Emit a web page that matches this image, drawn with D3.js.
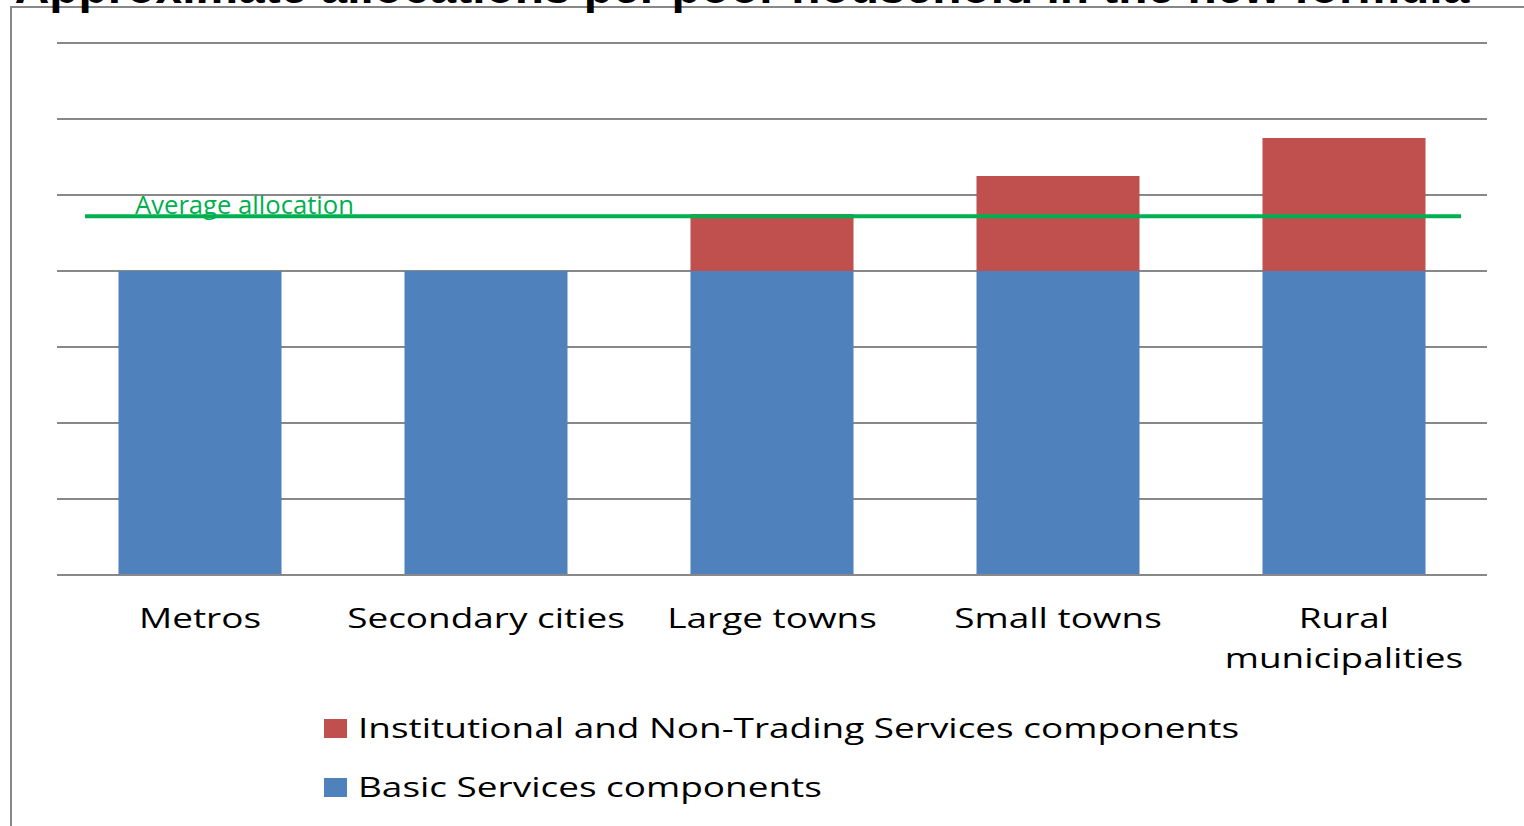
<!DOCTYPE html>
<html>
<head>
<meta charset="utf-8">
<script src="https://cdn.jsdelivr.net/npm/d3@7"></script>
<style>
  body { margin: 0; background: #fff; }
  svg { display: block; }
</style>
</head>
<body>
<svg id="chart" width="1524" height="826"></svg>
<script>
// Data
var categories = ["Metros", "Secondary cities", "Large towns", "Small towns", "Rural municipalities"];
var basicServices = [4, 4, 4, 4, 4];
var institutional = [0, 0, 0.75, 1.25, 1.75];
var averageAllocation = 4.72;
var yTicks = [0, 1, 2, 3, 4, 5, 6, 7];
var seriesNames = ["Institutional and Non-Trading Services components", "Basic Services components"];
var seriesColors = ["#C0504D", "#4F81BD"];

var svg = d3.select("#chart");
var stretch = 1.32; // text in the original is wider than it is tall

// Fit text to a given width by adjusting font size
function fitText(sel, targetWidth) {
    var fs = parseFloat(sel.attr("font-size"));
    var w = sel.node().getComputedTextLength();
    sel.attr("font-size", fs * targetWidth / w);
}

// Frame
svg.append("path")
    .attr("d", "M11,826 L11,7 L1524,7")
    .attr("fill", "none")
    .attr("stroke", "#888")
    .attr("stroke-width", 2);

// Title (cut off at top, as in the original)
var title = svg.append("text")
    .attr("x", 742)
    .attr("y", 3)
    .attr("text-anchor", "middle")
    .attr("font-family", "Liberation Sans, Arial, sans-serif")
    .attr("font-weight", "bold")
    .attr("font-size", 40)
    .attr("fill", "#000")
    .text("Approximate allocations per poor household in the new formula");
fitText(title, 1455);

var x = d3.scaleBand()
    .domain(categories)
    .range([57, 1487])
    .paddingInner(0.43)
    .paddingOuter(0.215);

var y = d3.scaleLinear()
    .domain([0, 7])
    .range([575, 43]);

// Gridlines
svg.append("g")
    .selectAll("line")
    .data(yTicks)
    .enter()
    .append("line")
    .attr("x1", 57)
    .attr("x2", 1487)
    .attr("y1", function (d) { return y(d); })
    .attr("y2", function (d) { return y(d); })
    .attr("stroke", "#888")
    .attr("stroke-width", 2);

// Stacked bars
var rows = categories.map(function (c, i) {
    return { cat: c, basic: basicServices[i], inst: institutional[i] };
});

svg.append("g")
    .selectAll("rect")
    .data(rows)
    .enter()
    .append("rect")
    .attr("x", function (d) { return x(d.cat); })
    .attr("width", x.bandwidth())
    .attr("y", function (d) { return y(d.basic); })
    .attr("height", function (d) { return y(0) - y(d.basic); })
    .attr("fill", seriesColors[1]);

svg.append("g")
    .selectAll("rect")
    .data(rows.filter(function (d) { return d.inst > 0; }))
    .enter()
    .append("rect")
    .attr("x", function (d) { return x(d.cat); })
    .attr("width", x.bandwidth())
    .attr("y", function (d) { return y(d.basic + d.inst); })
    .attr("height", function (d) { return y(d.basic) - y(d.basic + d.inst); })
    .attr("fill", seriesColors[0]);

// Redraw axis line on top
svg.append("line")
    .attr("x1", 57).attr("x2", 1487)
    .attr("y1", y(0)).attr("y2", y(0))
    .attr("stroke", "#888")
    .attr("stroke-width", 2);

// Average allocation line
svg.append("line")
    .attr("x1", 85)
    .attr("x2", 1461)
    .attr("y1", y(averageAllocation))
    .attr("y2", y(averageAllocation))
    .attr("stroke", "#00B050")
    .attr("stroke-width", 4);

var avgLabel = svg.append("text")
    .attr("x", 135)
    .attr("y", y(averageAllocation) - 2)
    .attr("font-family", "Open Sans, sans-serif")
    .attr("font-size", 22)
    .attr("fill", "#00B050")
    .text("Average allocation");
fitText(avgLabel, 219);

// Category labels
var catLabels = svg.append("g")
    .selectAll("g")
    .data(categories)
    .enter()
    .append("g")
    .attr("transform", function (d) {
        return "translate(" + (x(d) + x.bandwidth() / 2) + ",0) scale(" + stretch + ",1)";
    })
    .append("text")
    .attr("text-anchor", "middle")
    .attr("font-family", "Open Sans, sans-serif")
    .attr("font-size", 28)
    .attr("fill", "#000");

catLabels.each(function (d) {
    var words = d === "Rural municipalities" ? ["Rural", "municipalities"] : [d];
    var t = d3.select(this);
    words.forEach(function (w, i) {
        t.append("tspan")
            .attr("x", 0)
            .attr("y", 628 + i * 40)
            .text(w);
    });
});

// Legend
var legend = svg.append("g")
    .selectAll("g")
    .data(seriesNames)
    .enter()
    .append("g")
    .attr("transform", function (d, i) { return "translate(324," + (719 + i * 59) + ")"; });

legend.append("rect")
    .attr("width", 23)
    .attr("height", 19)
    .attr("fill", function (d, i) { return seriesColors[i]; });

legend.append("g")
    .attr("transform", "translate(34,0) scale(" + stretch + ",1)")
    .append("text")
    .attr("y", 19)
    .attr("font-family", "Open Sans, sans-serif")
    .attr("font-size", 28)
    .attr("fill", "#000")
    .text(function (d) { return d; });
</script>
</body>
</html>
